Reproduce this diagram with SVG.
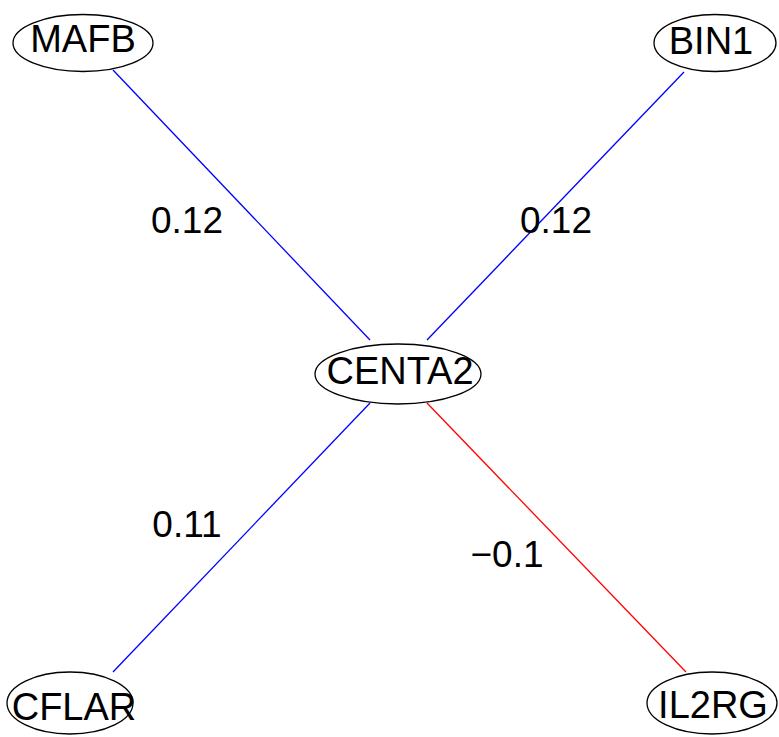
<svg xmlns="http://www.w3.org/2000/svg" width="779" height="737" viewBox="0 0 779 737">
<style>
.node ellipse{fill:#fff;stroke:#000;stroke-width:1.3}
.node text{font-family:"Liberation Sans",Arial,sans-serif;font-size:38px;text-anchor:middle;fill:#000}
.lbl{font-family:"Liberation Sans",Arial,sans-serif;font-size:37px;text-anchor:middle;fill:#000}
.pos{stroke:#0000ff;stroke-width:1.3}
.neg{stroke:#ff0000;stroke-width:1.3}
</style>
<rect width="779" height="737" fill="#fff"/>
<g id="edges">
<line class="pos" x1="113" y1="70" x2="370" y2="340"/>
<line class="pos" x1="684" y1="72" x2="427" y2="340"/>
<line class="pos" x1="370" y1="403" x2="113" y2="672"/>
<line class="neg" x1="427" y1="403" x2="686" y2="672"/>
<text class="lbl" x="187" y="233">0.12</text>
<text class="lbl" x="556" y="233">0.12</text>
<text class="lbl" x="187" y="537">0.11</text>
<text class="lbl" x="507" y="567">−0.1</text>
</g>
<g id="MAFB" class="node"><ellipse cx="83" cy="43" rx="70" ry="28.5"/><text x="83" y="52">MAFB</text></g>
<g id="BIN1" class="node"><ellipse cx="715" cy="43" rx="61" ry="28.5"/><text x="711" y="54">BIN1</text></g>
<g id="CENTA2" class="node"><ellipse cx="398" cy="374" rx="83" ry="30"/><text x="400" y="384">CENTA2</text></g>
<g id="CFLAR" class="node"><ellipse cx="70" cy="703" rx="63" ry="31"/><text x="74" y="720">CFLAR</text></g>
<g id="IL2RG" class="node"><ellipse cx="712" cy="703" rx="65" ry="31"/><text x="713" y="718">IL2RG</text></g>
</svg>
